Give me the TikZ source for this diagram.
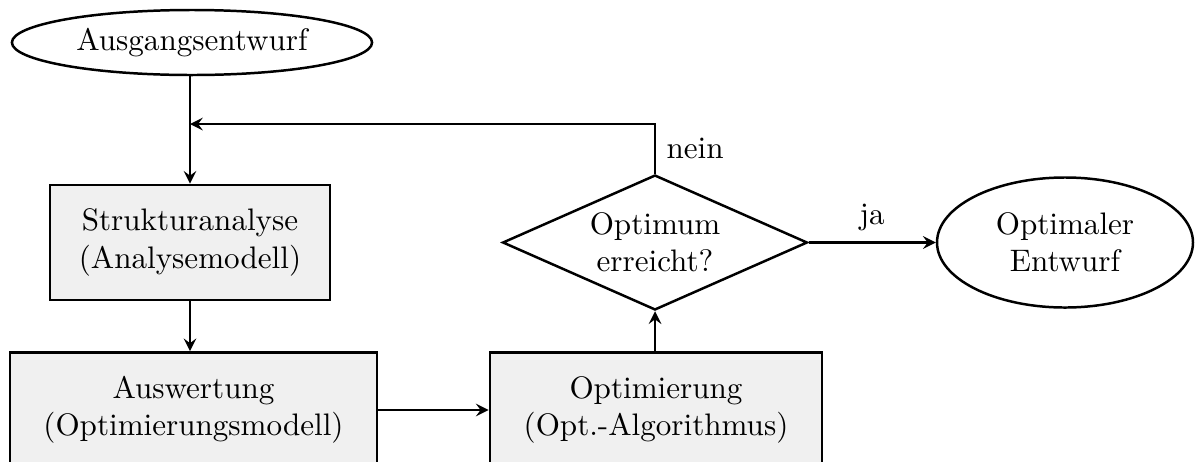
\documentclass[tikz,border=0pt]{standalone}
\usetikzlibrary{shapes.geometric}
\begin{document}
\begin{tikzpicture}[x=0.3215pt,y=-0.3215pt,>=stealth,thick,
        box/.style={draw,fill=black!6,align=center,inner sep=0pt,minimum height=37pt},
        oval/.style={draw,ellipse,align=center,inner sep=0pt},
        test/.style={draw,diamond,aspect=2.26,align=center,inner sep=0pt,minimum width=98pt,minimum height=43.4pt}]
        \clip (0,0) rectangle (1195,461);
        \node[oval,minimum width=115.8pt,minimum height=20.9pt] (start) at (192,42.5) {Ausgangsentwurf};
        \node[box,minimum width=90pt] (ana) at (190,242.5) {Strukturanalyse\\(Analysemodell)};
        \node[box,minimum width=118pt] (ausw) at (193.5,410) {Auswertung\\(Optimierungsmodell)};
        \node[box,minimum width=106.8pt] (opt) at (656,410) {Optimierung\\(Opt.-Algorithmus)};
        \node[test] (dec) at (655,242.5) {Optimum\\erreicht?};
        \node[oval,minimum width=82.3pt,minimum height=41.8pt] (end) at (1065,242.5) {Optimaler\\Entwurf};
        \coordinate (back) at (190,124);
        \draw[->] (ana |- start.south) -- (ana);
        \draw[->] (ana.south) -- (ana.south |- ausw.north);
        \draw[->] (ausw.east) -- (ausw.east -| opt.west);
        \draw[->] (opt.north -| dec) -- (dec.south);
        \draw[->] (dec) -- node[above]{ja} (end);
        \draw[->] (dec.north) |- node[pos=0.25,right]{nein} (back);
\end{tikzpicture}
\end{document}
